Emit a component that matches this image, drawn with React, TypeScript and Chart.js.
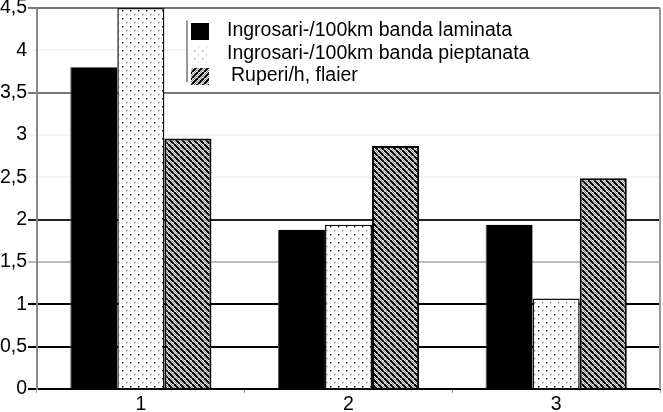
import { useEffect, useRef } from "react"
import { Chart, registerables } from "chart.js"

Chart.register(...registerables)

const categories = ["1", "2", "3"]
const laminata = [3.8, 1.88, 1.94]
const pieptanata = [4.5, 1.94, 1.07]
const ruperi = [2.96, 2.87, 2.49]
const seriesLabels = [
  "Ingrosari-/100km banda laminata",
  "Ingrosari-/100km banda pieptanata",
  "Ruperi/h, flaier",
]

const FONT = "'Liberation Sans', Arial, sans-serif"

function makeTile(size: number, paint: (c: CanvasRenderingContext2D) => void) {
  const tile = document.createElement("canvas")
  tile.width = size
  tile.height = size
  const c = tile.getContext("2d")!
  c.fillStyle = "#fff"
  c.fillRect(0, 0, size, size)
  paint(c)
  return c.createPattern(tile, "repeat")!
}

function dotPattern(strong: boolean) {
  return makeTile(8, (c) => {
    c.fillStyle = strong ? "#000" : "#999"
    c.fillRect(2, 2, 1.4, 1.4)
    c.fillStyle = strong ? "#888" : "#ccc"
    c.fillRect(6, 6, 1.4, 1.4)
  })
}

function hatchPattern(rising: boolean) {
  return makeTile(6, (c) => {
    const line = (off: number, color: string, w: number) => {
      c.strokeStyle = color
      c.lineWidth = w
      c.beginPath()
      if (rising) {
        c.moveTo(off, 6)
        c.lineTo(off + 6, 0)
      } else {
        c.moveTo(off, 0)
        c.lineTo(off + 6, 6)
      }
      c.stroke()
    }
    for (const k of [-6, 0, 6]) {
      line(k, "#000", 2.2)
      line(k + 3, "#999", 1)
    }
  })
}

// grid line colour per y value, mimicking the faded scan
function gridColor(v: number) {
  if (v === 0 || v === 0.5 || v === 1) return "#000"
  if (v === 2) return "#222"
  if (v === 1.5) return "#bbb"
  if (v === 3.5 || v === 4.5) return "#777"
  return "#f4f4f4"
}

export default function App() {
  const canvasRef = useRef<HTMLCanvasElement>(null)
  const chartRef = useRef<Chart | null>(null)

  useEffect(() => {
    if (!canvasRef.current) return
    if (chartRef.current) chartRef.current.destroy()
    const ctx = canvasRef.current.getContext("2d")
    if (!ctx) return

    const dots = dotPattern(true)
    const hatch = hatchPattern(false)
    const swatches = ["#000", dotPattern(false), hatchPattern(true)]

    const legendPlugin = {
      id: "boxLegend",
      beforeDatasetsDraw(chart: Chart) {
        const c = chart.ctx
        const area = chart.chartArea
        const y = chart.scales.y
        const top = y.getPixelForValue(4.5) + 1.5
        const bottom = y.getPixelForValue(3.5) - 1.5
        const left = 187
        c.save()
        c.fillStyle = "#fff"
        c.fillRect(left, top, area.right - left - 1, bottom - top)
        c.strokeStyle = "#777"
        c.lineWidth = 1.5
        c.beginPath()
        c.moveTo(left, top + 11)
        c.lineTo(left, bottom - 9)
        c.stroke()
        const rows = [31, 54, 76]
        c.font = `19.5px ${FONT}`
        c.textBaseline = "middle"
        seriesLabels.forEach((label, i) => {
          c.fillStyle = swatches[i] as any
          c.fillRect(191, rows[i] - 8, 18, 17)
          c.fillStyle = "#000"
          c.fillText(label, i === 2 ? 231 : 227, rows[i])
        })
        // right frame of the plot area
        c.strokeStyle = "#999"
        c.lineWidth = 2
        c.beginPath()
        c.moveTo(area.right, area.top)
        c.lineTo(area.right, area.bottom)
        c.stroke()
        c.restore()
      },
    }

    chartRef.current = new Chart(ctx, {
      type: "bar",
      data: {
        labels: categories,
        datasets: [
          {
            label: seriesLabels[0],
            data: laminata,
            backgroundColor: "#000",
            borderColor: "#555",
            borderWidth: { left: 1 },
          },
          {
            label: seriesLabels[1],
            data: pieptanata,
            backgroundColor: dots,
            borderColor: "#111",
            borderWidth: 1.5,
          },
          {
            label: seriesLabels[2],
            data: ruperi,
            backgroundColor: hatch,
            borderColor: "#000",
            borderWidth: 2,
          },
        ],
      },
      options: {
        responsive: true,
        maintainAspectRatio: false,
        animation: false,
        layout: { padding: { top: 8, right: 3, left: 0, bottom: 0 } },
        plugins: {
          legend: { display: false },
          tooltip: { enabled: false },
        },
        datasets: {
          bar: { categoryPercentage: 0.68, barPercentage: 1 },
        },
        scales: {
          x: {
            offset: true,
            grid: {
              offset: true,
              drawOnChartArea: false,
              tickLength: 4,
              tickColor: "#999",
            },
            border: { color: "#000", width: 2 },
            ticks: {
              color: "#000",
              font: { family: FONT, size: 19.5 },
              padding: 0,
            },
            afterFit: (s: any) => {
              s.height = 23
            },
          },
          y: {
            min: 0,
            max: 4.5,
            grid: {
              color: (c: any) => gridColor(c.tick?.value ?? 0),
              lineWidth: 2,
              tickLength: 9,
            },
            border: { color: "#888", width: 2 },
            ticks: {
              stepSize: 0.5,
              color: "#000",
              padding: 1,
              font: { family: FONT, size: 19.5 },
              callback: (v: any) => String(v).replace(".", ","),
            },
            afterFit: (s: any) => {
              s.width = 37
              s.paddingTop = 0
              s.paddingBottom = 0
            },
          },
        },
      },
      plugins: [legendPlugin],
    })

    return () => {
      if (chartRef.current) {
        chartRef.current.destroy()
        chartRef.current = null
      }
    }
  }, [])

  return (
    <div style={{ position: "absolute", left: 0, top: 0, width: 663, height: 412, background: "#fff" }}>
      <canvas ref={canvasRef} />
    </div>
  )
}
